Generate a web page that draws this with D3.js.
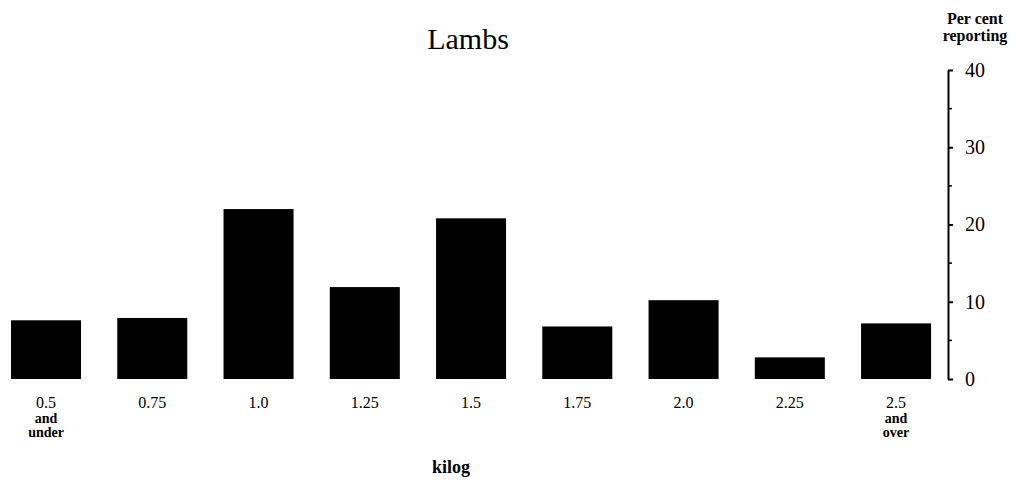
<!DOCTYPE html>
<html>
<head>
<meta charset="utf-8">
<script src="https://cdn.jsdelivr.net/npm/d3@7"></script>
<style>
  body { margin: 0; background: #fff; }
  svg { display: block; }
  text { font-family: "Liberation Serif", "DejaVu Serif", serif; fill: #000; }
</style>
</head>
<body>
<svg id="chart" width="1016" height="486"></svg>
<script>
const categories = ["0.5", "0.75", "1.0", "1.25", "1.5", "1.75", "2.0", "2.25", "2.5"];
const categorySubLabels = [["and", "under"], [], [], [], [], [], [], [], ["and", "over"]];
const values = [7.6, 7.9, 22.0, 11.9, 20.8, 6.8, 10.2, 2.8, 7.2];
const majorTicks = [0, 10, 20, 30, 40];
const minorTicks = [5, 15, 25, 35];
const title = "Lambs";
const yTitle = ["Per cent", "reporting"];
const xTitle = "kilog";

const svg = d3.select("#chart");

const x = d3.scaleBand()
  .domain(categories)
  .range([-7.1, 949.2])
  .paddingInner(0.341)
  .paddingOuter(0.1705);

const y = d3.scaleLinear().domain([0, 40]).range([379, 70]);

// bars
svg.append("g").selectAll("rect")
  .data(values)
  .join("rect")
  .attr("x", (d, i) => x(categories[i]))
  .attr("width", x.bandwidth())
  .attr("y", d => y(d))
  .attr("height", d => y(0) - y(d))
  .attr("fill", "#000");

// right axis
const axisX = 948;
const yAxis = svg.append("g").attr("transform", `translate(${axisX},0)`)
  .call(d3.axisRight(y).tickValues(majorTicks).tickSize(5).tickSizeOuter(0).tickPadding(12).tickFormat(d3.format("d")));
yAxis.select(".domain").attr("stroke", "#000").attr("stroke-width", 2);
yAxis.selectAll(".tick line").attr("stroke", "#000").attr("stroke-width", 2);
yAxis.selectAll(".tick text").attr("font-size", 20).attr("font-family", "Liberation Serif").attr("fill", "#000");

svg.append("g").attr("transform", `translate(${axisX},0)`)
  .selectAll("line").data(minorTicks).join("line")
  .attr("x1", 0).attr("x2", 4)
  .attr("y1", d => y(d)).attr("y2", d => y(d))
  .attr("stroke", "#000").attr("stroke-width", 1.5);

// x category labels (separate text elements per line)
const xl = svg.append("g");
categories.forEach((c, i) => {
  const cx = x(c) + x.bandwidth() / 2;
  xl.append("text").attr("x", cx).attr("y", 408).attr("text-anchor", "middle")
    .attr("font-size", 16).text(c);
  categorySubLabels[i].forEach((s, j) => {
    xl.append("text").attr("x", cx).attr("y", 423 + j * 14).attr("text-anchor", "middle")
      .attr("font-size", 14).attr("font-weight", "bold").text(s);
  });
});

// title
svg.append("text").attr("x", 468).attr("y", 49).attr("text-anchor", "middle")
  .attr("font-size", 30).text(title);

// y title
yTitle.forEach((s, i) => {
  svg.append("text").attr("x", 975).attr("y", 24 + i * 17).attr("text-anchor", "middle")
    .attr("font-size", 16).attr("font-weight", "bold").text(s);
});

// x title
svg.append("text").attr("x", 451).attr("y", 473).attr("text-anchor", "middle")
  .attr("font-size", 18).attr("font-weight", "bold").text(xTitle);
</script>
</body>
</html>
